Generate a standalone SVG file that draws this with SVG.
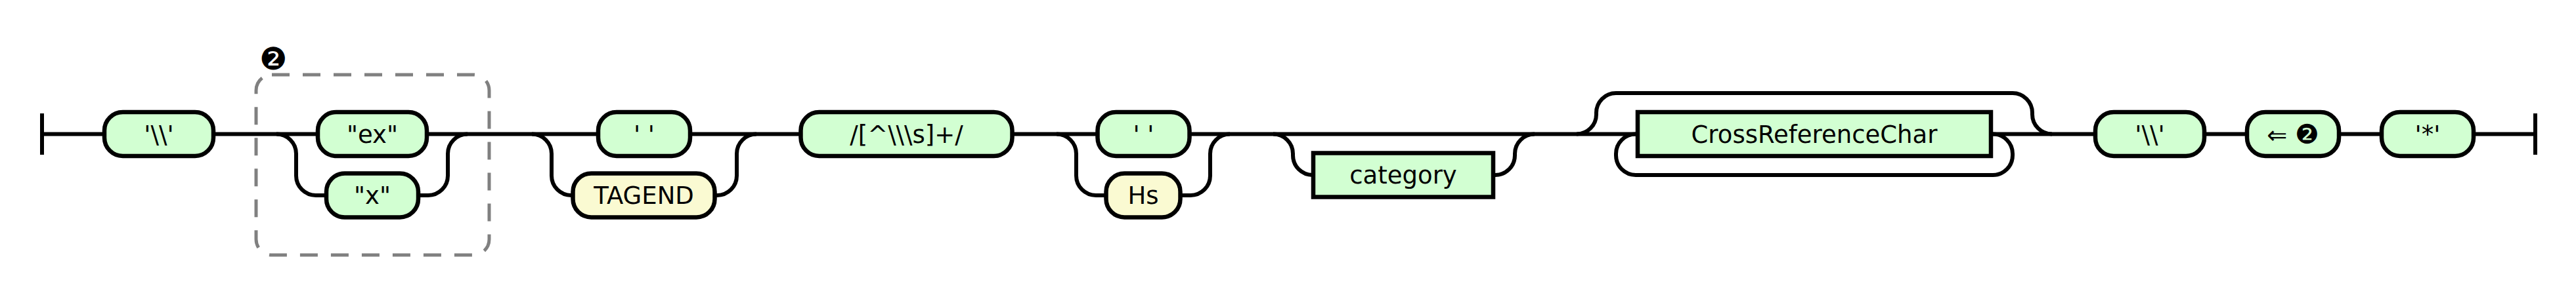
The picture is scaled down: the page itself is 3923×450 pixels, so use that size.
<svg xmlns="http://www.w3.org/2000/svg" width="3923" height="450" viewBox="0 0 3923 450">
<style>
.bg{fill:#ffffff}
.ln{fill:none;stroke:#000;stroke-width:6}
.t{fill:#d2ffd2;stroke:#000;stroke-width:6.5}
.y{fill:#fafad2;stroke:#000;stroke-width:6.5}
.grp{fill:none;stroke:#808080;stroke-width:5;stroke-dasharray:27 20}
text{font-family:"DejaVu Sans","Liberation Sans",sans-serif;font-size:37px;fill:#000;text-anchor:middle}
.lbl{text-anchor:start;font-size:47px}
.big{font-size:41px}
</style>
<rect class="bg" x="0" y="0" width="3923" height="450"/>
<g id="connectors">
<path class="ln" d="M64 173V236M64 204.5H159"/>
<path class="ln" d="M325 204.5H484"/>
<path class="ln" d="M421 204.5a30 30 0 0 1 30 30v33.5a30 30 0 0 0 30 30H497"/>
<path class="ln" d="M637 298H652a30 30 0 0 0 30 -30v-33.5a30 30 0 0 1 30 -30"/>
<path class="ln" d="M650 204.5H911"/>
<path class="ln" d="M810 204.5a30 30 0 0 1 30 30v33.5a30 30 0 0 0 30 30H872.5"/>
<path class="ln" d="M1088.5 298H1092a30 30 0 0 0 30 -30v-33.5a30 30 0 0 1 30 -30"/>
<path class="ln" d="M1051 204.5H1219.5"/>
<path class="ln" d="M1541.5 204.5H1671.5"/>
<path class="ln" d="M1609 204.5a30 30 0 0 1 30 30v33.5a30 30 0 0 0 30 30H1684.5"/>
<path class="ln" d="M1797.5 298H1813a30 30 0 0 0 30 -30v-33.5a30 30 0 0 1 30 -30"/>
<path class="ln" d="M1811.5 204.5H2494"/>
<path class="ln" d="M1939 204.5a30 30 0 0 1 30 30v2.5a30 30 0 0 0 30 30H2000"/>
<path class="ln" d="M2274 267H2277a30 30 0 0 0 30 -30v-2.5a30 30 0 0 1 30 -30"/>
<path class="ln" d="M2401 204.5a30 30 0 0 0 30 -30v-2.5a30 30 0 0 1 30 -30H3065a30 30 0 0 1 30 30v2.5a30 30 0 0 0 30 30"/>
<path class="ln" d="M3035 204.5a30 30 0 0 1 30 30v2.5a30 30 0 0 1 -30 30H2491a30 30 0 0 1 -30 -30v-2.5a30 30 0 0 1 30 -30"/>
<path class="ln" d="M3032 204.5H3191"/>
<path class="ln" d="M3357 204.5H3422"/>
<path class="ln" d="M3562 204.5H3627"/>
<path class="ln" d="M3767 204.5H3861M3861 173V236"/>
</g>
<g id="group2">
<rect class="grp" x="390" y="114" width="355" height="275" rx="24"/>
<text class="lbl" x="395" y="106">❷</text>
</g>
<g id="n1"><rect class="t" x="159" y="171" width="166" height="67" rx="28"/><text x="242" y="217.5">'\\'</text></g>
<g id="n2"><rect class="t" x="484" y="171" width="166" height="67" rx="28"/><text x="567" y="217.5">"ex"</text></g>
<g id="n3"><rect class="t" x="497" y="264.5" width="140" height="67" rx="28"/><text x="567" y="311">"x"</text></g>
<g id="n4"><rect class="t" x="911" y="171" width="140" height="67" rx="28"/><text x="981" y="217.5">' '</text></g>
<g id="n5"><rect class="y" x="872.5" y="264.5" width="216" height="67" rx="28"/><text x="980.5" y="311">TAGEND</text></g>
<g id="n6"><rect class="t" x="1219.5" y="171" width="322" height="67" rx="28"/><text x="1380.5" y="217.5">/[^\\\s]+/</text></g>
<g id="n7"><rect class="t" x="1671.5" y="171" width="140" height="67" rx="28"/><text x="1741.5" y="217.5">' '</text></g>
<g id="n8"><rect class="y" x="1684.5" y="264.5" width="113" height="67" rx="28"/><text x="1741" y="311">Hs</text></g>
<g id="n9"><rect class="t" x="2000" y="233.5" width="274" height="67"/><text x="2137" y="280">category</text></g>
<g id="n10"><rect class="t" x="2494" y="171" width="538" height="67"/><text x="2763" y="217.5">CrossReferenceChar</text></g>
<g id="n11"><rect class="t" x="3191" y="171" width="166" height="67" rx="28"/><text x="3274" y="217.5">'\\'</text></g>
<g id="n12"><rect class="t" x="3422" y="171" width="140" height="67" rx="28"/><text x="3492" y="218.5">⇐ <tspan class="big">❷</tspan></text></g>
<g id="n13"><rect class="t" x="3627" y="171" width="140" height="67" rx="28"/><text x="3697" y="217.5">'*'</text></g>
</svg>
